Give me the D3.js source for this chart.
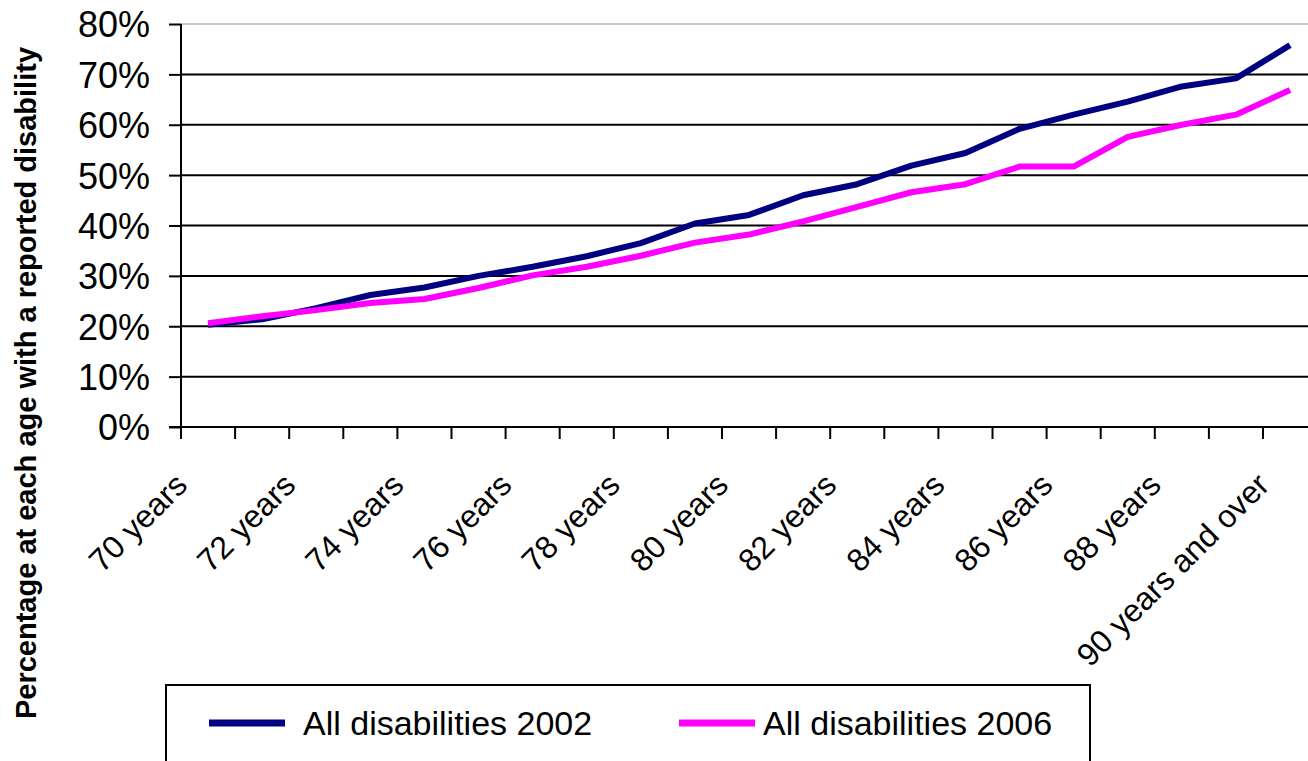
<!DOCTYPE html>
<html>
<head>
<meta charset="utf-8">
<script src="https://cdn.jsdelivr.net/npm/d3@7"></script>
<style>
  html, body { margin: 0; padding: 0; background: #fff; }
  svg { display: block; font-family: Arial, "Liberation Sans", sans-serif; }
</style>
</head>
<body>
<svg id="chart" width="1308" height="761"></svg>
<script>
const categories = ["70 years","71 years","72 years","73 years","74 years","75 years","76 years","77 years","78 years","79 years","80 years","81 years","82 years","83 years","84 years","85 years","86 years","87 years","88 years","89 years","90 years and over"];
const values2002 = [20.3, 21.4, 23.6, 26.2, 27.7, 30.0, 31.8, 33.9, 36.5, 40.4, 42.1, 46.0, 48.2, 51.9, 54.4, 59.2, 62.0, 64.6, 67.6, 69.2, 75.8];
const values2006 = [20.6, 22.0, 23.2, 24.6, 25.4, 27.6, 30.1, 31.8, 34.0, 36.6, 38.2, 40.8, 43.7, 46.6, 48.2, 51.7, 51.7, 57.6, 60.0, 62.0, 66.9];
const seriesNames = ["All disabilities 2002", "All disabilities 2006"];
const yTicks = [0, 10, 20, 30, 40, 50, 60, 70, 80];
const yTitle = "Percentage at each age with a reported disability";

const svg = d3.select("#chart");
const pLeft = 181, pRight = 181 + 21 * 54.1, pTop = 24, pBottom = 427;

const x = d3.scaleBand().domain(categories).range([pLeft, pRight]).padding(0);
const y = d3.scaleLinear().domain([0, 80]).range([pBottom, pTop]);
const cx = d => x(d) + x.bandwidth() / 2;

// gridlines
svg.append("g").selectAll("line").data(yTicks.filter(t => t > 0)).join("line")
  .attr("x1", pLeft).attr("x2", pRight)
  .attr("y1", d => y(d)).attr("y2", d => y(d))
  .attr("stroke", d => d === 80 ? "#c8c8c8" : "#000")
  .attr("stroke-width", 2);

// y axis
const yAxis = svg.append("g").attr("transform", `translate(${pLeft},0)`)
  .call(d3.axisLeft(y).tickValues(yTicks).tickSize(12).tickFormat(d => d + "%"));
yAxis.select(".domain").remove();
yAxis.selectAll(".tick line").attr("stroke", "#000").attr("stroke-width", 2);
yAxis.selectAll(".tick text").attr("font-size", 36).attr("fill", "#000")
  .attr("x", -31).attr("dy", "0.36em").attr("font-family", "Arial, 'Liberation Sans', sans-serif");
svg.append("line").attr("x1", pLeft).attr("x2", pLeft).attr("y1", pTop).attr("y2", pBottom + 12)
  .attr("stroke", "#000").attr("stroke-width", 2);

// x axis line and ticks at category boundaries
svg.append("line").attr("x1", pLeft - 12).attr("x2", pRight).attr("y1", pBottom).attr("y2", pBottom)
  .attr("stroke", "#000").attr("stroke-width", 2);
svg.append("g").selectAll("line").data(categories).join("line")
  .attr("x1", d => x(d) + x.bandwidth()).attr("x2", d => x(d) + x.bandwidth())
  .attr("y1", pBottom).attr("y2", pBottom + 12)
  .attr("stroke", "#000").attr("stroke-width", 2);

// x labels (every other category)
svg.append("g").selectAll("text").data(categories.filter((d, i) => i % 2 === 0)).join("text")
  .attr("transform", d => `translate(${cx(d) - 19},487) rotate(-45)`)
  .attr("text-anchor", "end")
  .attr("font-size", 32).attr("fill", "#000")
  .text(d => d);

// lines
const line = d3.line().x((d, i) => cx(categories[i])).y(d => y(d));
svg.append("path").datum(values2002).attr("d", line)
  .attr("fill", "none").attr("stroke", "#000080").attr("stroke-width", 6)
  .attr("stroke-linejoin", "round");
svg.append("path").datum(values2006).attr("d", line)
  .attr("fill", "none").attr("stroke", "#ff00ff").attr("stroke-width", 6)
  .attr("stroke-linejoin", "round");

// y title
svg.append("text").attr("transform", "translate(36,383) rotate(-90)")
  .attr("text-anchor", "middle").attr("font-size", 29).attr("font-weight", "bold")
  .attr("fill", "#000").text(yTitle);

// legend
svg.append("rect").attr("x", 166).attr("y", 685).attr("width", 924).attr("height", 90)
  .attr("fill", "#fff").attr("stroke", "#000").attr("stroke-width", 2);
const legendItems = [
  { name: seriesNames[0], color: "#000080", x1: 209, x2: 285, tx: 303 },
  { name: seriesNames[1], color: "#ff00ff", x1: 679, x2: 755, tx: 763 }
];
const lg = svg.append("g");
lg.selectAll("line").data(legendItems).join("line")
  .attr("x1", d => d.x1).attr("x2", d => d.x2).attr("y1", 723).attr("y2", 723)
  .attr("stroke", d => d.color).attr("stroke-width", 7);
lg.selectAll("text").data(legendItems).join("text")
  .attr("x", d => d.tx).attr("y", 735).attr("font-size", 34).attr("fill", "#000")
  .text(d => d.name);
</script>
</body>
</html>
